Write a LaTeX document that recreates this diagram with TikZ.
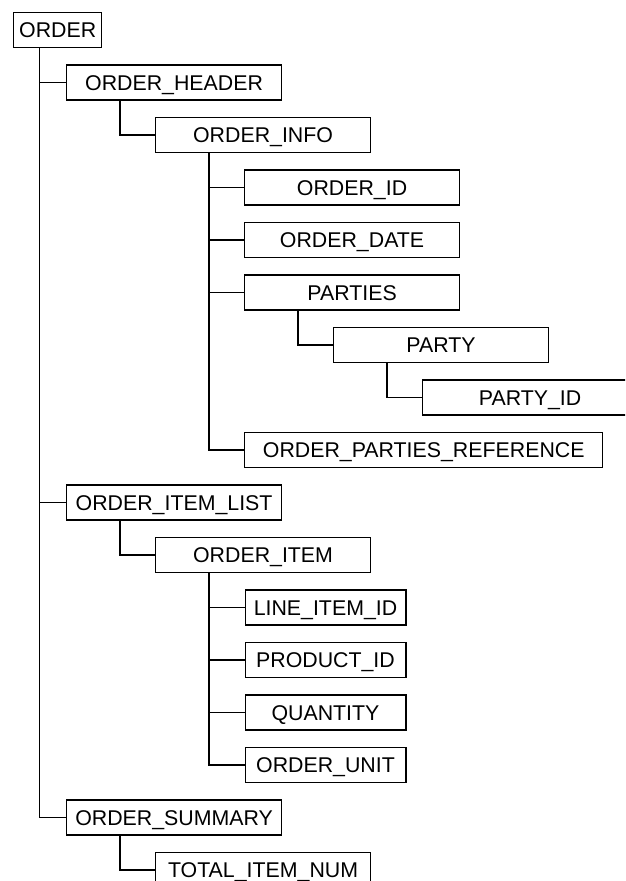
\documentclass[tikz,border=0pt]{standalone}
\usepackage{fontspec}
\setmainfont{Liberation Sans}
\begin{document}
\begin{tikzpicture}[x=0.75pt,y=-0.75pt,
  bx/.style={draw=black, line width=1.1pt, rectangle, inner sep=0pt, anchor=north west,
    minimum height=26.25pt, text height=11.7pt, text depth=0.3pt, align=center,
    font=\fontsize{16}{19}\selectfont},
  wA/.style={minimum width=161pt},
  wB/.style={minimum width=120.4pt},
  wC/.style={minimum width=268.5pt},
  wD/.style={minimum width=66pt},
  conn/.style={draw=black, line width=1.1pt}]
\useasboundingbox (0,0) rectangle (625,881);
\clip (0,0) rectangle (625,881);
\fill[white] (0,0) rectangle (625,881);
\node[bx,wD] (order) at (13,11.8) {ORDER};
\node[bx,wA] (ohdr) at (66,64.3) {ORDER\_HEADER};
\node[bx,wA] (oinfo) at (155,116.8) {ORDER\_INFO};
\node[bx,wA] (oid) at (244,169.3) {ORDER\_ID};
\node[bx,wA] (odate) at (244,221.8) {ORDER\_DATE};
\node[bx,wA] (parties) at (244,274.3) {PARTIES};
\node[bx,wA] (party) at (333,326.8) {PARTY};
\node[bx,wA] (partyid) at (422,379.3) {PARTY\_ID};
\node[bx,wC] (opref) at (244,431.8) {ORDER\_PARTIES\_REFERENCE};
\node[bx,wA] (oilist) at (66,484.3) {ORDER\_ITEM\_LIST};
\node[bx,wA] (oitem) at (155,536.8) {ORDER\_ITEM};
\node[bx,wB] (lineid) at (244.5,589.3) {LINE\_ITEM\_ID};
\node[bx,wB] (prodid) at (244.5,641.8) {PRODUCT\_ID};
\node[bx,wB] (qty) at (244.5,694.3) {QUANTITY};
\node[bx,wB] (ounit) at (244.5,746.8) {ORDER\_UNIT};
\node[bx,wA] (osum) at (66,799.3) {ORDER\_SUMMARY};
\node[bx,wA] (total) at (155,851.8) {TOTAL\_ITEM\_NUM};
% connectors
\foreach \c in {ohdr,oilist,osum}
  \draw[conn] ([xshift=19.9pt]order.south west) |- (\c.west);
\draw[conn] ([xshift=40.5pt]ohdr.south west) |- (oinfo.west);
\foreach \c in {oid,odate,parties,opref}
  \draw[conn] ([xshift=40.5pt]oinfo.south west) |- (\c.west);
\draw[conn] ([xshift=40.5pt]parties.south west) |- (party.west);
\draw[conn] ([xshift=40.5pt]party.south west) |- (partyid.west);
\draw[conn] ([xshift=40.5pt]oilist.south west) |- (oitem.west);
\foreach \c in {lineid,prodid,qty,ounit}
  \draw[conn] ([xshift=40.5pt]oitem.south west) |- (\c.west);
\draw[conn] ([xshift=40.5pt]osum.south west) |- (total.west);
\end{tikzpicture}
\end{document}
